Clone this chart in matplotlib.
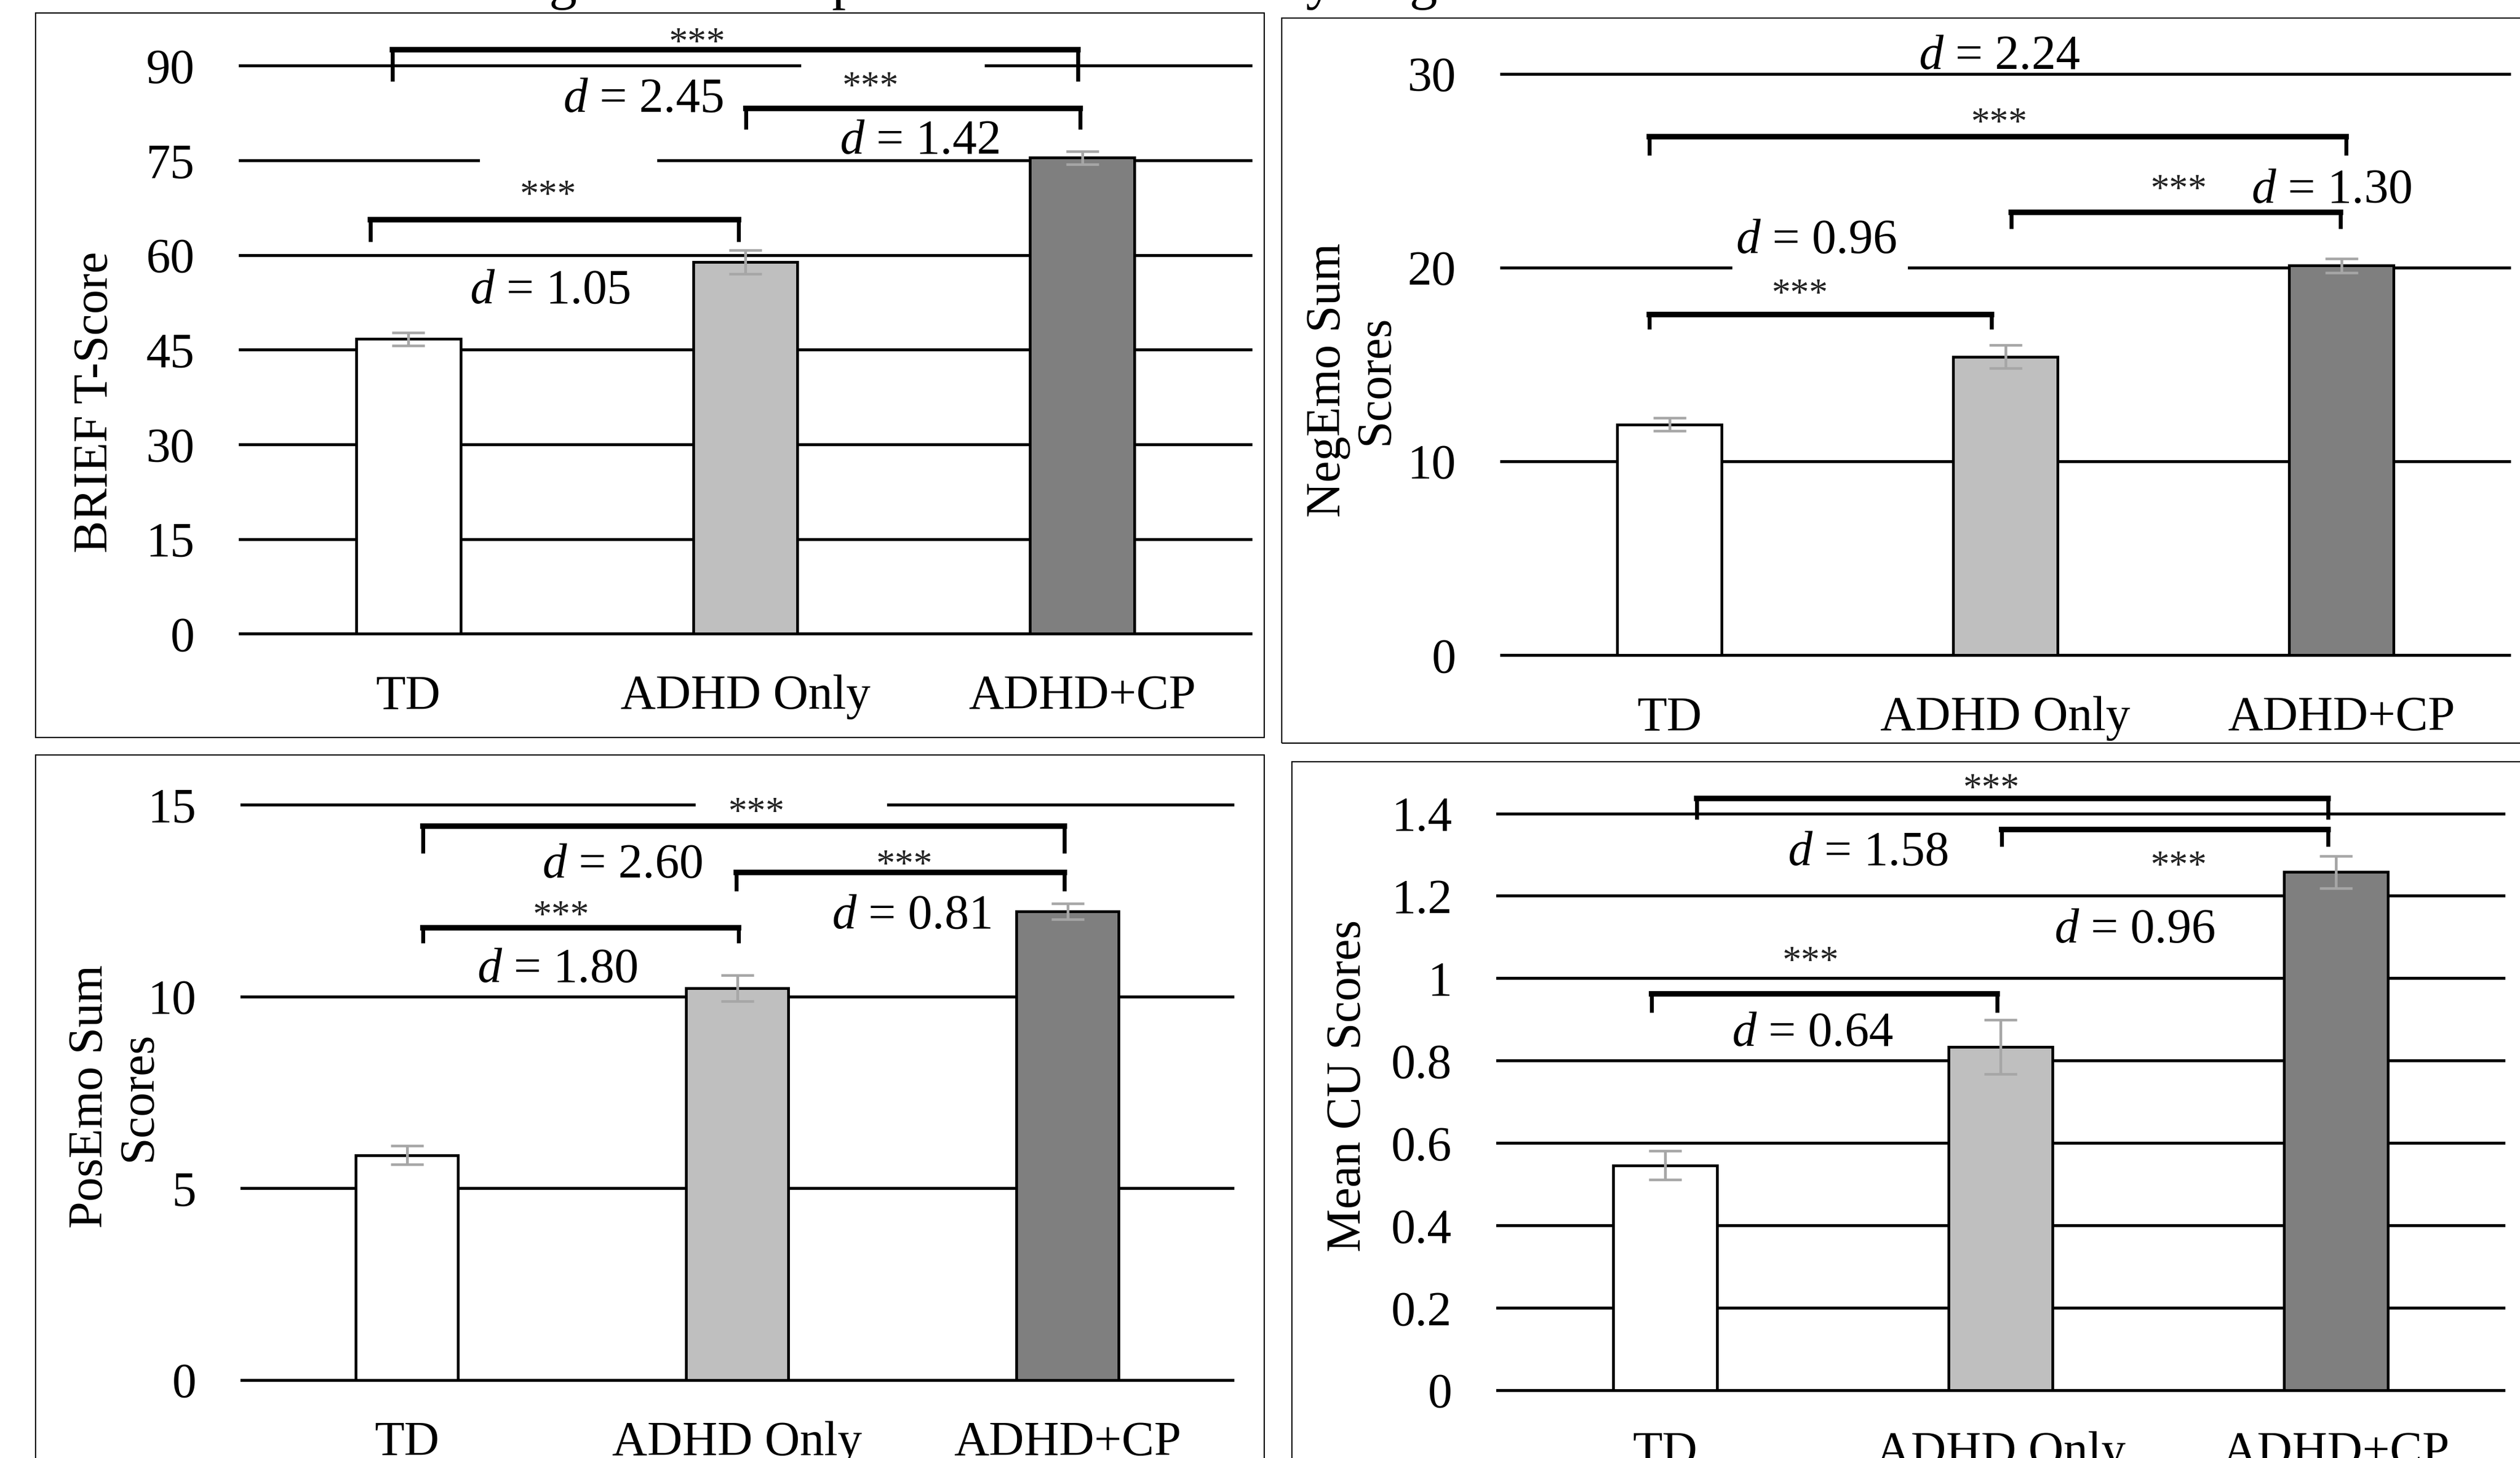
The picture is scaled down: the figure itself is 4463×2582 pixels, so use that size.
import matplotlib
matplotlib.use('Agg')
import matplotlib.pyplot as plt
from matplotlib.patches import Rectangle
from matplotlib.ticker import FuncFormatter
import numpy as np

# figure is laid out in pixel units of the 4463x2582 target
W, H = 4463, 2582
DPI = 100

plt.rcParams['font.family'] = ['Liberation Serif', 'DejaVu Serif']
plt.rcParams['mathtext.fontset'] = 'custom'
plt.rcParams['mathtext.rm'] = 'Liberation Serif'
plt.rcParams['mathtext.it'] = 'Liberation Serif:italic'

# ---- data ----
groups = ['TD', 'ADHD Only', 'ADHD+CP']
bar_colors = ['white', '#BFBFBF', '#7F7F7F']

brief_means = [46.7, 58.9, 75.4]
brief_err = [1.05, 1.85, 1.05]
brief_d = ['1.05', '1.42', '2.45']   # TD vs ADHD, ADHD vs CP, TD vs CP

negemo_means = [11.9, 15.4, 20.1]
negemo_err = [0.34, 0.60, 0.36]
negemo_d = ['0.96', '1.30', '2.24']

posemo_means = [5.86, 10.21, 12.22]
posemo_err = [0.24, 0.34, 0.21]
posemo_d = ['1.80', '0.81', '2.60']

cu_means = [0.546, 0.833, 1.258]
cu_err = [0.035, 0.066, 0.039]
cu_d = ['0.64', '0.96', '1.58']

FS = 62
STAR_FS = 48


def fig_rect(x0, y0, x1, y1):
    return [x0 / W, 1 - y1 / H, (x1 - x0) / W, (y1 - y0) / H]


def draw_panel(ax, means, errs, ticks, ylabel, label_xy, brackets, stars, dtexts, d_vals, gaps):
    x = np.arange(len(groups))
    ax.set_xlim(-0.5, 2.5)
    ax.set_ylim(ticks[0], ticks[-1])
    for t in ticks:
        ax.axhline(t, color='black', lw=3.8, zorder=1, clip_on=False)
    # white text boxes that break the gridlines
    for gx0, gx1, gy, gh in gaps:
        ax.add_patch(Rectangle((gx0, gy - gh / 2), gx1 - gx0, gh, facecolor='white',
                               edgecolor='none', zorder=1.5, clip_on=False))
    ax.bar(x, means, width=0.31, color=bar_colors, edgecolor='black', linewidth=3.5, zorder=2)
    ax.errorbar(x, means, yerr=errs, fmt='none', ecolor='#A6A6A6', elinewidth=3.5,
                capsize=21, capthick=3.3, zorder=3)
    for x0, x1, yt, yb in brackets:
        ax.plot([x0, x1], [yt, yt], color='black', lw=7, solid_capstyle='projecting',
                zorder=4, clip_on=False)
        ax.plot([x0, x0], [yb, yt], color='black', lw=5, solid_capstyle='butt', zorder=4, clip_on=False)
        ax.plot([x1, x1], [yb, yt], color='black', lw=5, solid_capstyle='butt', zorder=4, clip_on=False)
    for sx, sy in stars:
        ax.annotate('***', xy=(sx, sy), xytext=(0, -0.5 * STAR_FS), textcoords='offset points',
                    ha='center', va='baseline', fontsize=STAR_FS, color='#222222',
                    zorder=5, annotation_clip=False)
    for (tx, ty), dv in zip(dtexts, d_vals):
        ax.annotate(r'$d$ = ' + dv, xy=(tx, ty), xytext=(0, -0.34 * FS), textcoords='offset points',
                    ha='center', va='baseline', fontsize=FS, zorder=5, annotation_clip=False)

    ax.set_xticks(x)
    ax.set_xticklabels(groups, fontsize=FS)
    ax.set_yticks(ticks)
    ax.yaxis.set_major_formatter(FuncFormatter(lambda v, p: '{:g}'.format(round(v, 2))))
    ax.tick_params(axis='y', length=0, pad=58, labelsize=FS)
    ax.tick_params(axis='x', length=0, pad=52, labelsize=FS)
    for s in ax.spines.values():
        s.set_visible(False)
    ax.patch.set_visible(False)
    ax.text(label_xy[0], label_xy[1], ylabel, transform=ax.transAxes, rotation=90,
            ha='center', va='center', ma='center', fontsize=FS, linespacing=1.1)


fig = plt.figure(figsize=(W / DPI, H / DPI), dpi=DPI)

# panel frames
for fx0, fy0, fx1, fy1 in [(63, 23, 2239, 1306), (2270, 32, 4480, 1316),
                           (63, 1337, 2239, 2600), (2288, 1349, 4480, 2600)]:
    fig.add_artist(Rectangle((fx0 / W, 1 - fy1 / H), (fx1 - fx0) / W, (fy1 - fy0) / H,
                             transform=fig.transFigure, facecolor='none',
                             edgecolor='black', lw=1.6))

# caption, mostly cut off by the top edge
fig.text(890 / W, 1 + 3 / H, 'Figure 1. Group Differences in Study Regulation',
         ha='left', va='baseline', fontsize=71)

ax1 = fig.add_axes(fig_rect(425, 116.2, 2215, 1122.4))
draw_panel(ax1, brief_means, brief_err, [0, 15, 30, 45, 60, 75, 90], 'BRIEF T-Score',
           (-0.143, 0.408),
           [(-0.113, 0.98, 65.6, 62.1), (1.002, 1.994, 83.2, 79.9), (-0.048, 1.987, 92.5, 87.5)],
           [(0.414, 70.8), (1.372, 88.0), (0.858, 95.0)],
           [(0.42, 55.0), (1.517, 78.7), (0.696, 85.3)], brief_d,
           [(1.166, 1.71, 90, 3.0), (0.213, 0.739, 75, 3.0)])

ax2 = fig.add_axes(fig_rect(2659, 130.5, 4444, 1160))
draw_panel(ax2, negemo_means, negemo_err, [0, 10, 20, 30], 'NegEmo Sum\nScores',
           (-0.148, 0.473),
           [(-0.059, 0.959, 17.56, 16.8), (1.018, 1.997, 22.84, 22.0), (-0.059, 2.014, 26.76, 25.8)],
           [(0.389, 19.08), (1.516, 24.47), (0.982, 27.9)],
           [(0.437, 21.6), (1.97, 24.2), (0.982, 31.1)], negemo_d,
           [(0.187, 0.71, 20, 1.0)])

ax3 = fig.add_axes(fig_rect(428, 1425, 2183, 2443.8))
draw_panel(ax3, posemo_means, posemo_err, [0, 5, 10, 15], 'PosEmo Sum\nScores',
           (-0.128, 0.4925),
           [(0.049, 1.004, 11.79, 11.40), (0.997, 1.99, 13.24, 12.75), (0.049, 1.99, 14.44, 13.74)],
           [(0.467, 12.33), (1.507, 13.65), (1.059, 15.02)],
           [(0.455, 10.82), (1.527, 12.21), (0.652, 13.53)], posemo_d,
           [(0.874, 1.454, 15, 0.5)])

ax4 = fig.add_axes(fig_rect(2652, 1440.6, 4434, 2461.8))
draw_panel(ax4, cu_means, cu_err, [0, 0.2, 0.4, 0.6, 0.8, 1.0, 1.2, 1.4], 'Mean CU Scores',
           (-0.148, 0.528),
           [(-0.041, 0.99, 0.962, 0.917), (1.003, 1.976, 1.361, 1.320), (0.094, 1.976, 1.436, 1.386)],
           [(0.434, 1.061), (1.531, 1.293), (0.973, 1.481)],
           [(0.439, 0.876), (1.40, 1.128), (0.604, 1.315)], cu_d,
           [])

fig.savefig('out.png', dpi=DPI)
